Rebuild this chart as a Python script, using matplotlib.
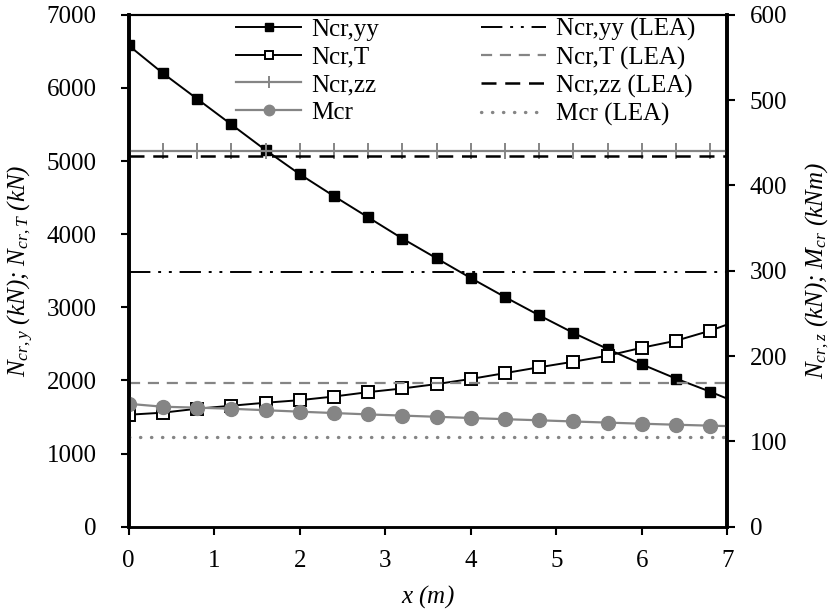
import matplotlib
matplotlib.use('Agg')
from matplotlib import pyplot as plt

x_pos       = [0.0, 0.4, 0.8, 1.2, 1.6, 2.0, 2.4, 2.8, 3.2, 3.6, 4.0, 4.4, 4.8, 5.2, 5.6, 6.0, 6.4, 6.8, 7.0]

ncr_yy      = [6580, 6200, 5850, 5500, 5150, 4820, 4520, 4230, 3940, 3670, 3400, 3140, 2890, 2650, 2430, 2220, 2025, 1846, 1750]
ncr_t       = [1531, 1559, 1613, 1654, 1695, 1730, 1780, 1840, 1890, 1950, 2020, 2100, 2180, 2256, 2338, 2447, 2543, 2680, 2765]
ncr_zz      = [440.5] * 19
mcr         = [144.0, 140.6, 139.5, 138.2, 136.5, 134.8, 133.2, 131.6, 130.2, 128.8, 127.4, 126.0, 124.7, 123.3, 122.0, 120.7, 119.5, 118.4, 117.9]

ncr_yy_lea  = 3480
ncr_t_lea   = 1970
ncr_zz_lea  = 434.8
mcr_lea     = 105.5

x_ticks     = [0, 1, 2, 3, 4, 5, 6, 7]
left_ticks  = [0, 1000, 2000, 3000, 4000, 5000, 6000, 7000]
right_ticks = [0, 100, 200, 300, 400, 500, 600]

plt.rcParams.update({'font.size': 18,
                     'font.family': 'Liberation Serif',
                     'mathtext.fontset': 'custom',
                     'mathtext.rm': 'Liberation Serif',
                     'mathtext.it': 'Liberation Serif:italic',
                     'mathtext.bf': 'Liberation Serif:bold'})

gray = '#858585'
marks = list(range(18))

fig, ax = plt.subplots(figsize=(8.36, 6.16), dpi=100)
fig.subplots_adjust(left=0.154, right=0.870, top=0.976, bottom=0.145)
ax2 = ax.twinx()

l1, = ax.plot(x_pos, ncr_yy, color='black', lw=1.4, marker='s', ms=7,
              mfc='black', mec='black', markevery=marks, label='Ncr,yy')
l2, = ax.plot(x_pos, ncr_t, color='black', lw=1.4, marker='s', ms=8.5,
              mfc='white', mec='black', mew=1.4, markevery=marks, label='Ncr,T')
l3, = ax2.plot(x_pos, ncr_zz, color=gray, lw=1.6, marker='+', ms=12,
               mew=1.4, markevery=marks, label='Ncr,zz')
l4, = ax2.plot(x_pos, mcr, color=gray, lw=1.6, marker='o', ms=10,
               mfc=gray, mec=gray, markevery=marks, label='Mcr')

l5 = ax.axhline(ncr_yy_lea, color='black', lw=1.4, dashes=(11, 4, 1.5, 4, 1.5, 4),
                label='Ncr,yy (LEA)')
l6 = ax.axhline(ncr_t_lea, color=gray, lw=1.6, dashes=(5, 3.5), label='Ncr,T (LEA)')
l7 = ax2.axhline(ncr_zz_lea, color='black', lw=1.8, dashes=(6, 3.5), label='Ncr,zz (LEA)')
l8 = ax2.axhline(mcr_lea, color=gray, lw=2.4, dashes=(0.1, 3.2), dash_capstyle='round',
                 label='Mcr (LEA)')

ax.set_xlim(0, 7)
ax.set_ylim(0, 7000)
ax2.set_ylim(0, 600)
ax.set_xticks(x_ticks)
ax.set_yticks(left_ticks)
ax2.set_yticks(right_ticks)

ax.tick_params(axis='x', direction='out', length=6, width=1.5, pad=11)
ax.tick_params(axis='y', direction='out', length=6, width=1.5, pad=17)
ax2.tick_params(direction='out', length=6, width=1.5, pad=10)

for a in (ax, ax2):
    a.spines['left'].set_linewidth(2.6)
    a.spines['right'].set_linewidth(2.6)
    a.spines['top'].set_linewidth(1.5)
    a.spines['bottom'].set_linewidth(1.8)

ax.set_xlabel(r'$x$ (m)', style='italic', labelpad=8)
ax.set_ylabel(r'$N_{cr,y}$ (kN); $N_{cr,T}$ (kN)', style='italic', labelpad=8)
ax2.set_ylabel(r'$N_{cr,z}$ (kN); $M_{cr}$ (kNm)', style='italic', labelpad=12)

handles = [l1, l2, l3, l4, l5, l6, l7, l8]
ax2.legend(handles, [h.get_label() for h in handles], ncol=2, frameon=False,
           loc='upper center', bbox_to_anchor=(0.563, 1.037), numpoints=1,
           handlelength=2.6, columnspacing=4.05, handletextpad=0.4,
           labelspacing=0.2, markerscale=0.75, fontsize=18)

fig.savefig('out.png', dpi=100)
